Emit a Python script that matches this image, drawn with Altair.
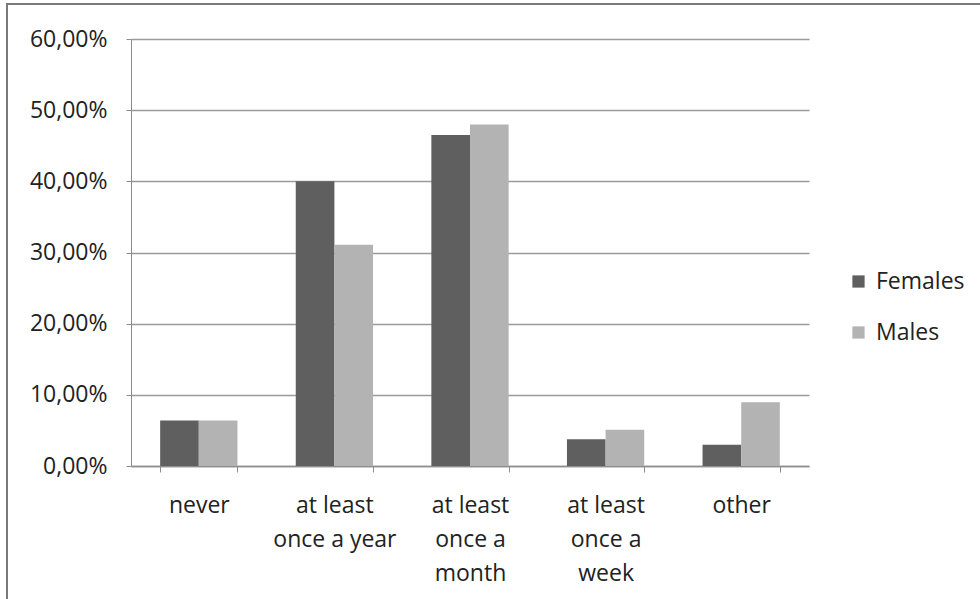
import altair as alt
import pandas as pd

# Survey answers: how often respondents do it, by gender
categories = ["never", "at least\nonce a year", "at least\nonce a\nmonth", "at least\nonce a\nweek", "other"]
females = [0.064, 0.400, 0.465, 0.0375, 0.030]
males = [0.064, 0.311, 0.480, 0.051, 0.0895]
groups = ["Females", "Males"]
colors = ["#5f5f5f", "#b3b3b3"]
y_ticks = [0, 0.1, 0.2, 0.3, 0.4, 0.5, 0.6]

rows = []
for cat, f, m in zip(categories, females, males):
    rows.append({"category": cat, "group": "Females", "share": f})
    rows.append({"category": cat, "group": "Males", "share": m})
df = pd.DataFrame(rows)

FONT = "Open Sans"
TEXT = "#222222"
FS = 23

bars = alt.Chart(df).mark_bar().encode(
    x=alt.X(
        "category:N",
        sort=categories,
        scale=alt.Scale(paddingInner=0.43, paddingOuter=0.215),
        axis=alt.Axis(
            title=None,
            labelAngle=0,
            labelExpr="split(datum.label, '\\n')",
            labelFontSize=FS,
            labelLineHeight=34,
            labelPadding=22,
            labelBaseline="top",
            tickBand="extent",
            tickSize=6,
            tickColor="#8c8c8c",
            domainColor="#8c8c8c",
            domainWidth=1.5,
            grid=False,
        ),
    ),
    xOffset=alt.XOffset("group:N", sort=groups, scale=alt.Scale(paddingInner=0, paddingOuter=0)),
    y=alt.Y(
        "share:Q",
        scale=alt.Scale(domain=[0, 0.6], nice=False),
        axis=alt.Axis(
            title=None,
            values=y_ticks,
            labelExpr="replace(format(datum.value, '.2%'), '.', ',')",
            labelFontSize=FS,
            labelPadding=19,
            tickSize=5,
            tickColor="#8c8c8c",
            domainColor="#8c8c8c",
            domainWidth=1,
            gridColor="#9a9a9a",
            gridWidth=1.5,
        ),
    ),
    color=alt.Color(
        "group:N",
        sort=groups,
        scale=alt.Scale(domain=groups, range=colors),
        legend=alt.Legend(
            title=None,
            orient="none",
            legendX=716,
            legendY=231,
            padding=0,
            symbolType="square",
            symbolSize=150,
            symbolStrokeWidth=0,
            labelFontSize=FS,
            labelOffset=6,
            rowPadding=27,
        ),
    ),
)

# Outer frame around the whole chart
frame = alt.Chart(df).mark_rect(fill=None, stroke="#7a7a7a", strokeWidth=2).encode(
    x=alt.value(-124),
    x2=alt.value(900),
    y=alt.value(-35),
    y2=alt.value(620),
)

chart = alt.layer(frame, bars).properties(
    width=678,
    height=427,
    padding={"left": 131, "top": 39, "right": 171, "bottom": 133},
    autosize=alt.AutoSizeParams(type="none"),
).configure(
    font=FONT,
    background="white",
).configure_axis(
    labelColor=TEXT,
    labelFont=FONT,
).configure_legend(
    labelColor=TEXT,
    labelFont=FONT,
).configure_view(stroke=None)

chart.save("out.html", embed_options={"renderer": "svg", "actions": False})
